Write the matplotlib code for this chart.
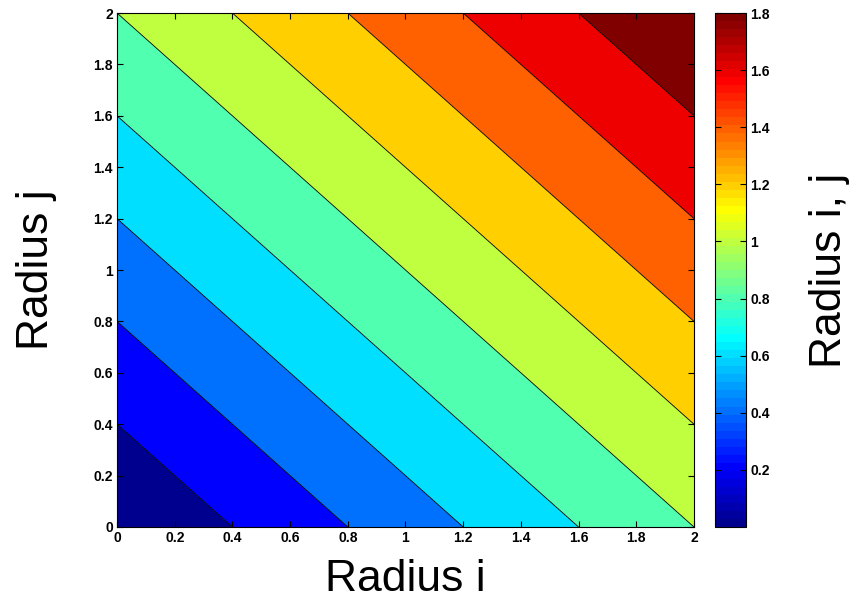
import numpy as np
import matplotlib
matplotlib.use("Agg")
import matplotlib.pyplot as plt
from matplotlib.colors import ListedColormap, Normalize
from matplotlib.cm import ScalarMappable

# Data
x_vals = np.linspace(0, 2, 201)
y_vals = np.linspace(0, 2, 201)
levels = [0.0, 0.2, 0.4, 0.6, 0.8, 1.0, 1.2, 1.4, 1.6, 1.8, 2.0]
line_levels = [0.2, 0.4, 0.6, 0.8, 1.0, 1.2, 1.4, 1.6, 1.8]
ticks = [0, 0.2, 0.4, 0.6, 0.8, 1, 1.2, 1.4, 1.6, 1.8, 2]
tick_labels = ["0", "0.2", "0.4", "0.6", "0.8", "1", "1.2", "1.4", "1.6", "1.8", "2"]
cb_ticks = [0.2, 0.4, 0.6, 0.8, 1.0, 1.2, 1.4, 1.6, 1.8]
cb_labels = ["0.2", "0.4", "0.6", "0.8", "1", "1.2", "1.4", "1.6", "1.8"]
cmin, cmax = 0.0, 1.8

X, Y = np.meshgrid(x_vals, y_vals)
Z = (X + Y) / 2.0


def matlab_jet(n=64):
    m = int(np.ceil(n / 4))
    u = np.concatenate([np.arange(1, m + 1) / m, np.ones(m - 1), np.arange(m, 0, -1) / m])
    g = int(np.ceil(m / 2)) - (1 if n % 4 == 1 else 0) + np.arange(1, len(u) + 1)
    r = g + m
    b = g - m
    cmap = np.zeros((n, 3))
    for idx, ch in ((r, 0), (g, 1), (b, 2)):
        ok = (idx >= 1) & (idx <= n)
        cmap[idx[ok] - 1, ch] = u[ok]
    return cmap


jet_arr = matlab_jet(64)
jet64 = ListedColormap(jet_arr)
norm = Normalize(vmin=cmin, vmax=cmax)
region_colors = []
for l in levels[:-1]:
    k = int(np.floor((l - cmin) / (cmax - cmin) * 64))
    k = min(max(k, 0), 63)
    region_colors.append(tuple(jet_arr[k]))

plt.rcParams['font.family'] = ['Liberation Sans', 'DejaVu Sans']
fig = plt.figure(figsize=(8.56, 6.0), dpi=100)
ax = fig.add_axes([0.1367, 0.1217, 0.674, 0.8566])
ax.contourf(X, Y, Z, levels=levels, colors=region_colors, antialiased=True)
ax.contour(X, Y, Z, levels=line_levels, colors='black', linewidths=0.6)
ax.set_xlim(0, 2)
ax.set_ylim(0, 2)
ax.set_xticks(ticks)
ax.set_xticklabels(tick_labels)
ax.set_yticks(ticks)
ax.set_yticklabels(tick_labels)
ax.tick_params(direction='in', length=4, width=0.8, labelsize=10, top=True, right=True, pad=3)
for lab in ax.get_xticklabels() + ax.get_yticklabels():
    lab.set_fontweight('bold')
for sp in ax.spines.values():
    sp.set_linewidth(0.8)
ax.set_xlabel("Radius i", fontsize=32, labelpad=10)
ax.set_ylabel("Radius j", fontsize=32, labelpad=26)

cax = fig.add_axes([0.8353, 0.1217, 0.0362, 0.8566])
sm = ScalarMappable(norm=norm, cmap=jet64)
cb = fig.colorbar(sm, cax=cax, ticks=cb_ticks)
cb.set_ticklabels(cb_labels)
cax.tick_params(direction='in', length=4, width=0.8, labelsize=10, left=True, right=True, pad=3)
for lab in cax.get_yticklabels():
    lab.set_fontweight('bold')
cb.outline.set_linewidth(0.8)
cb.set_label("Radius i, j", fontsize=32, labelpad=28)

fig.savefig("out.png", dpi=100)
